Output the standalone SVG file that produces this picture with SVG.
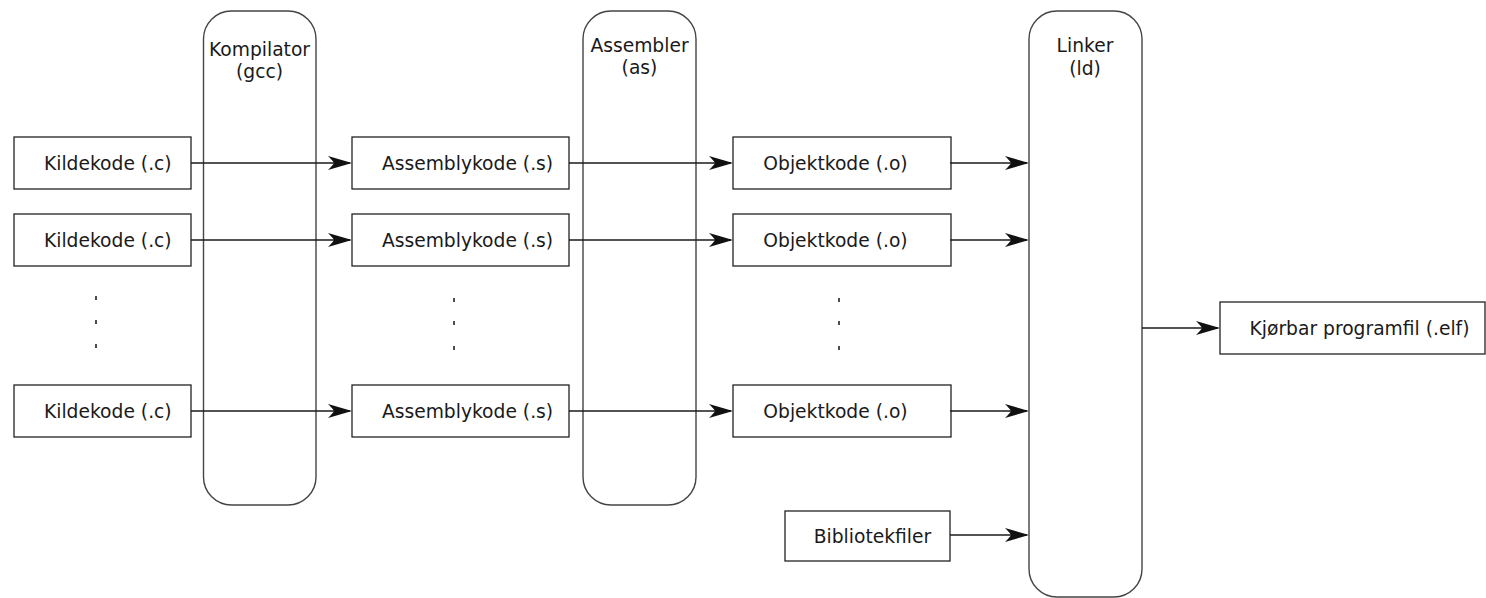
<svg xmlns="http://www.w3.org/2000/svg" width="1486" height="598" viewBox="0 0 1486 598">
<style>
  .pill { fill: #ffffff; stroke: #444444; stroke-width: 1.4; }
  .box { fill: #ffffff; stroke: #222222; stroke-width: 1.3; }
  .lbl { font-family: "DejaVu Sans", "Liberation Sans", sans-serif; font-size: 18.7px; fill: #1a1a1a; text-anchor: middle; }
  .conn { stroke: #1a1a1a; stroke-width: 1.3; fill: none; marker-end: url(#arr); }
  .dot { fill: #222222; }
</style>
<defs>
  <marker id="arr" markerUnits="userSpaceOnUse" viewBox="-26 -8 27 16" markerWidth="27" markerHeight="16" refX="-2" refY="0" orient="auto">
    <path d="M0,0 L-24,-7 Q-19,-2 -18,0 Q-19,2 -24,7 Z" fill="#111111"/>
  </marker>
</defs>
<rect width="1486" height="598" fill="#ffffff"/>

<g id="kompilator">
  <rect class="pill" x="203.5" y="11" width="112.5" height="494" rx="28" ry="28"/>
  <text class="lbl" x="259.5" y="56">Kompilator</text>
  <text class="lbl" x="259.5" y="78">(gcc)</text>
</g>
<g id="assembler">
  <rect class="pill" x="583" y="11" width="113" height="494" rx="28" ry="28"/>
  <text class="lbl" x="639.5" y="52">Assembler</text>
  <text class="lbl" x="639.5" y="74">(as)</text>
</g>
<g id="linker">
  <rect class="pill" x="1029" y="11" width="113" height="586" rx="28" ry="28"/>
  <text class="lbl" x="1085" y="52">Linker</text>
  <text class="lbl" x="1085" y="75">(ld)</text>
</g>

<g id="kilde1"><rect class="box" x="14" y="137" width="177" height="52"/><text class="lbl" x="107.8" y="169.5">Kildekode (.c)</text></g>
<g id="kilde2"><rect class="box" x="14" y="214" width="177" height="52"/><text class="lbl" x="107.8" y="246.5">Kildekode (.c)</text></g>
<g id="kilde3"><rect class="box" x="14" y="385" width="177" height="52"/><text class="lbl" x="107.8" y="417.5">Kildekode (.c)</text></g>

<g id="asm1"><rect class="box" x="352" y="137" width="217" height="52"/><text class="lbl" x="467.5" y="169.5">Assemblykode (.s)</text></g>
<g id="asm2"><rect class="box" x="352" y="214" width="217" height="52"/><text class="lbl" x="467.5" y="246.5">Assemblykode (.s)</text></g>
<g id="asm3"><rect class="box" x="352" y="385" width="217" height="52"/><text class="lbl" x="467.5" y="417.5">Assemblykode (.s)</text></g>

<g id="obj1"><rect class="box" x="733" y="137" width="218" height="52"/><text class="lbl" x="835.5" y="169.5">Objektkode (.o)</text></g>
<g id="obj2"><rect class="box" x="733" y="214" width="218" height="52"/><text class="lbl" x="835.5" y="246.5">Objektkode (.o)</text></g>
<g id="obj3"><rect class="box" x="733" y="385" width="218" height="52"/><text class="lbl" x="835.5" y="417.5">Objektkode (.o)</text></g>

<g id="bibliotek"><rect class="box" x="785" y="511" width="165" height="50"/><text class="lbl" x="872.5" y="543">Bibliotekfiler</text></g>
<g id="kjorbar"><rect class="box" x="1220" y="302" width="265" height="52"/><text class="lbl" x="1359.5" y="335">Kjørbar programfil (.elf)</text></g>

<g id="dots">
  <rect class="dot" x="95.2" y="296" width="1.6" height="4"/>
  <rect class="dot" x="95.2" y="320" width="1.6" height="4"/>
  <rect class="dot" x="95.2" y="344" width="1.6" height="4"/>
  <rect class="dot" x="453.2" y="298" width="1.6" height="4"/>
  <rect class="dot" x="453.2" y="321" width="1.6" height="4"/>
  <rect class="dot" x="453.2" y="346" width="1.6" height="4"/>
  <rect class="dot" x="838.2" y="298" width="1.6" height="4"/>
  <rect class="dot" x="838.2" y="321" width="1.6" height="4"/>
  <rect class="dot" x="838.2" y="346" width="1.6" height="4"/>
</g>

<g id="connectors">
  <line class="conn" x1="191" y1="163" x2="350" y2="163"/>
  <line class="conn" x1="191" y1="240" x2="350" y2="240"/>
  <line class="conn" x1="191" y1="411" x2="350" y2="411"/>
  <line class="conn" x1="569" y1="163" x2="731" y2="163"/>
  <line class="conn" x1="569" y1="240" x2="731" y2="240"/>
  <line class="conn" x1="569" y1="411" x2="731" y2="411"/>
  <line class="conn" x1="950" y1="163" x2="1027" y2="163"/>
  <line class="conn" x1="950" y1="240" x2="1027" y2="240"/>
  <line class="conn" x1="950" y1="411" x2="1027" y2="411"/>
  <line class="conn" x1="950" y1="535" x2="1027" y2="535"/>
  <line class="conn" x1="1142" y1="328" x2="1218" y2="328"/>
</g>
</svg>
